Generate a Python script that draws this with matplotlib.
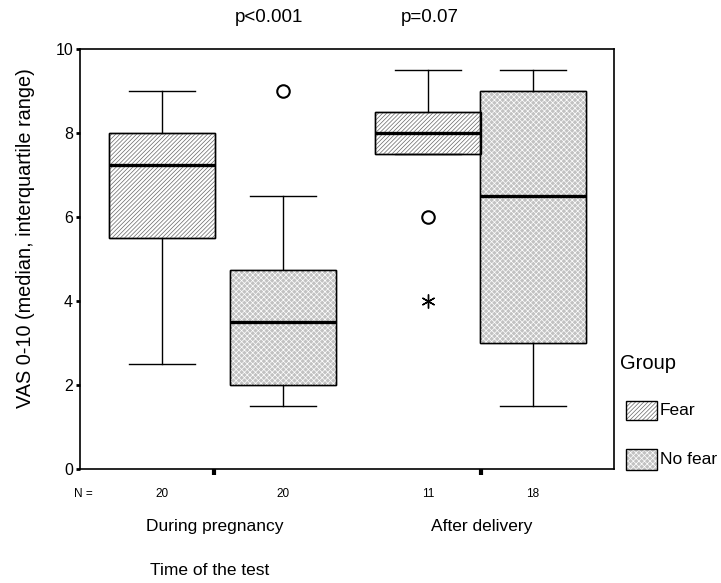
import matplotlib
matplotlib.use("Agg")
import matplotlib.pyplot as plt
from matplotlib.patches import PathPatch, Rectangle

plt.rcParams['font.family'] = ['Liberation Sans', 'DejaVu Sans']
plt.rcParams['hatch.linewidth'] = 0.5

# --- data ---
times = ["During pregnancy", "After delivery"]
groups = ["Fear", "No fear"]

fear_low = [2.5, 7.5]
fear_q1 = [5.5, 7.5]
fear_med = [7.25, 8.0]
fear_q3 = [8.0, 8.5]
fear_high = [9.0, 9.5]
fear_outliers = [[], [6.0]]
fear_extremes = [[], [4.0]]
fear_n = [20, 11]

nofear_low = [1.5, 1.5]
nofear_q1 = [2.0, 3.0]
nofear_med = [3.5, 6.5]
nofear_q3 = [4.75, 9.0]
nofear_high = [6.5, 9.5]
nofear_outliers = [[9.0], []]
nofear_extremes = [[], []]
nofear_n = [20, 18]

p_values = ["p<0.001", "p=0.07"]

# --- layout (x axis in pixel-like units) ---
fear_pos = [82, 348]
nofear_pos = [203, 453]
group_ticks = [134, 401]
box_w = 106

FEAR_HATCH = dict(fill=False, edgecolor='#666666', hatch='////////', linewidth=0)
NOFEAR_HATCH = dict(fill=False, edgecolor='white', hatch='xxxxxx', linewidth=0)
GRAY = '#c2c2c2'

fig = plt.figure(figsize=(7.21, 5.83), dpi=100)
ax = fig.add_axes([0.111, 0.1955, 0.7406, 0.7204])


def stats(low, q1, med, q3, high, outl):
    return [dict(whislo=low[i], q1=q1[i], med=med[i], q3=q3[i], whishi=high[i],
                 fliers=outl[i]) for i in range(len(low))]


flier = dict(marker='o', markersize=9, markerfacecolor='white',
             markeredgecolor='black', markeredgewidth=1.5)
common = dict(widths=box_w, patch_artist=True, showfliers=True,
              flierprops=flier,
              medianprops=dict(color='black', linewidth=2.4, solid_capstyle='butt'),
              whiskerprops=dict(color='black', linewidth=1),
              capprops=dict(color='black', linewidth=1),
              capwidths=66, manage_ticks=False)

bf = ax.bxp(stats(fear_low, fear_q1, fear_med, fear_q3, fear_high, fear_outliers),
            positions=fear_pos,
            boxprops=dict(facecolor='white', edgecolor='black', linewidth=1),
            **common)
bn = ax.bxp(stats(nofear_low, nofear_q1, nofear_med, nofear_q3, nofear_high, nofear_outliers),
            positions=nofear_pos,
            boxprops=dict(facecolor=GRAY, edgecolor='black', linewidth=1),
            **common)

# hatch layers on top of the fill, then the outline again
for boxes, hstyle in [(bf['boxes'], FEAR_HATCH), (bn['boxes'], NOFEAR_HATCH)]:
    for box in boxes:
        z = box.get_zorder()
        ax.add_patch(PathPatch(box.get_path(), zorder=z + 0.1, **hstyle))
        ax.add_patch(PathPatch(box.get_path(), fill=False, edgecolor='black',
                               linewidth=1, zorder=z + 0.2))
for m in bf['medians'] + bn['medians']:
    m.set_zorder(5)

for pos, ext in zip(fear_pos + nofear_pos, fear_extremes + nofear_extremes):
    if ext:
        ax.plot([pos] * len(ext), ext, linestyle='none', marker=(6, 2, 0),
                markersize=10, color='black', markeredgewidth=1)

ax.set_xlim(0, 534)
ax.set_ylim(0, 10)
ax.set_yticks([0, 2, 4, 6, 8, 10])
ax.set_xticks(group_ticks)
ax.set_xticklabels([])
ax.tick_params(axis='y', direction='out', length=3, width=2, labelsize=11.5, pad=2)
ax.tick_params(axis='x', direction='out', length=4, width=3)
for s in ax.spines.values():
    s.set_linewidth(1.2)

# N labels
ax.text(3, -0.6, "N =", ha='center', va='center', fontsize=8.5, clip_on=False)
for pos, n in zip(fear_pos + nofear_pos, fear_n + nofear_n):
    ax.text(pos, -0.6, str(n), ha='center', va='center', fontsize=8.5, clip_on=False)

for t, label in zip(group_ticks, times):
    ax.text(t + 1, -1.38, label, ha='center', va='center', fontsize=12.5, clip_on=False)

for x, p in zip([189, 350], p_values):
    ax.text(x, 10.76, p, ha='center', va='center', fontsize=13.5, clip_on=False)

fig.text(0.036, 0.592, "VAS 0-10 (median, interquartile range)", rotation=90,
         ha='center', va='center', fontsize=14.3)
fig.text(0.208, 0.022, "Time of the test", ha='left', va='center', fontsize=12.5)

# legend
fig.text(0.86, 0.377, "Group", ha='left', va='center', fontsize=14.5)
legend_boxes = [((0.868, 0.2796), 0.043, 0.0326, 'white', FEAR_HATCH),
                ((0.868, 0.194), 0.043, 0.036, GRAY, NOFEAR_HATCH)]
for xy, w, h, fc, hstyle in legend_boxes:
    fig.add_artist(Rectangle(xy, w, h, transform=fig.transFigure, facecolor=fc,
                             edgecolor='none'))
    fig.add_artist(Rectangle(xy, w, h, transform=fig.transFigure, **hstyle))
    fig.add_artist(Rectangle(xy, w, h, transform=fig.transFigure, fill=False,
                             edgecolor='black', linewidth=1))
fig.text(0.915, 0.2959, groups[0], ha='left', va='center', fontsize=12.5)
fig.text(0.915, 0.212, groups[1], ha='left', va='center', fontsize=12.5)

fig.savefig("out.png", dpi=100)
